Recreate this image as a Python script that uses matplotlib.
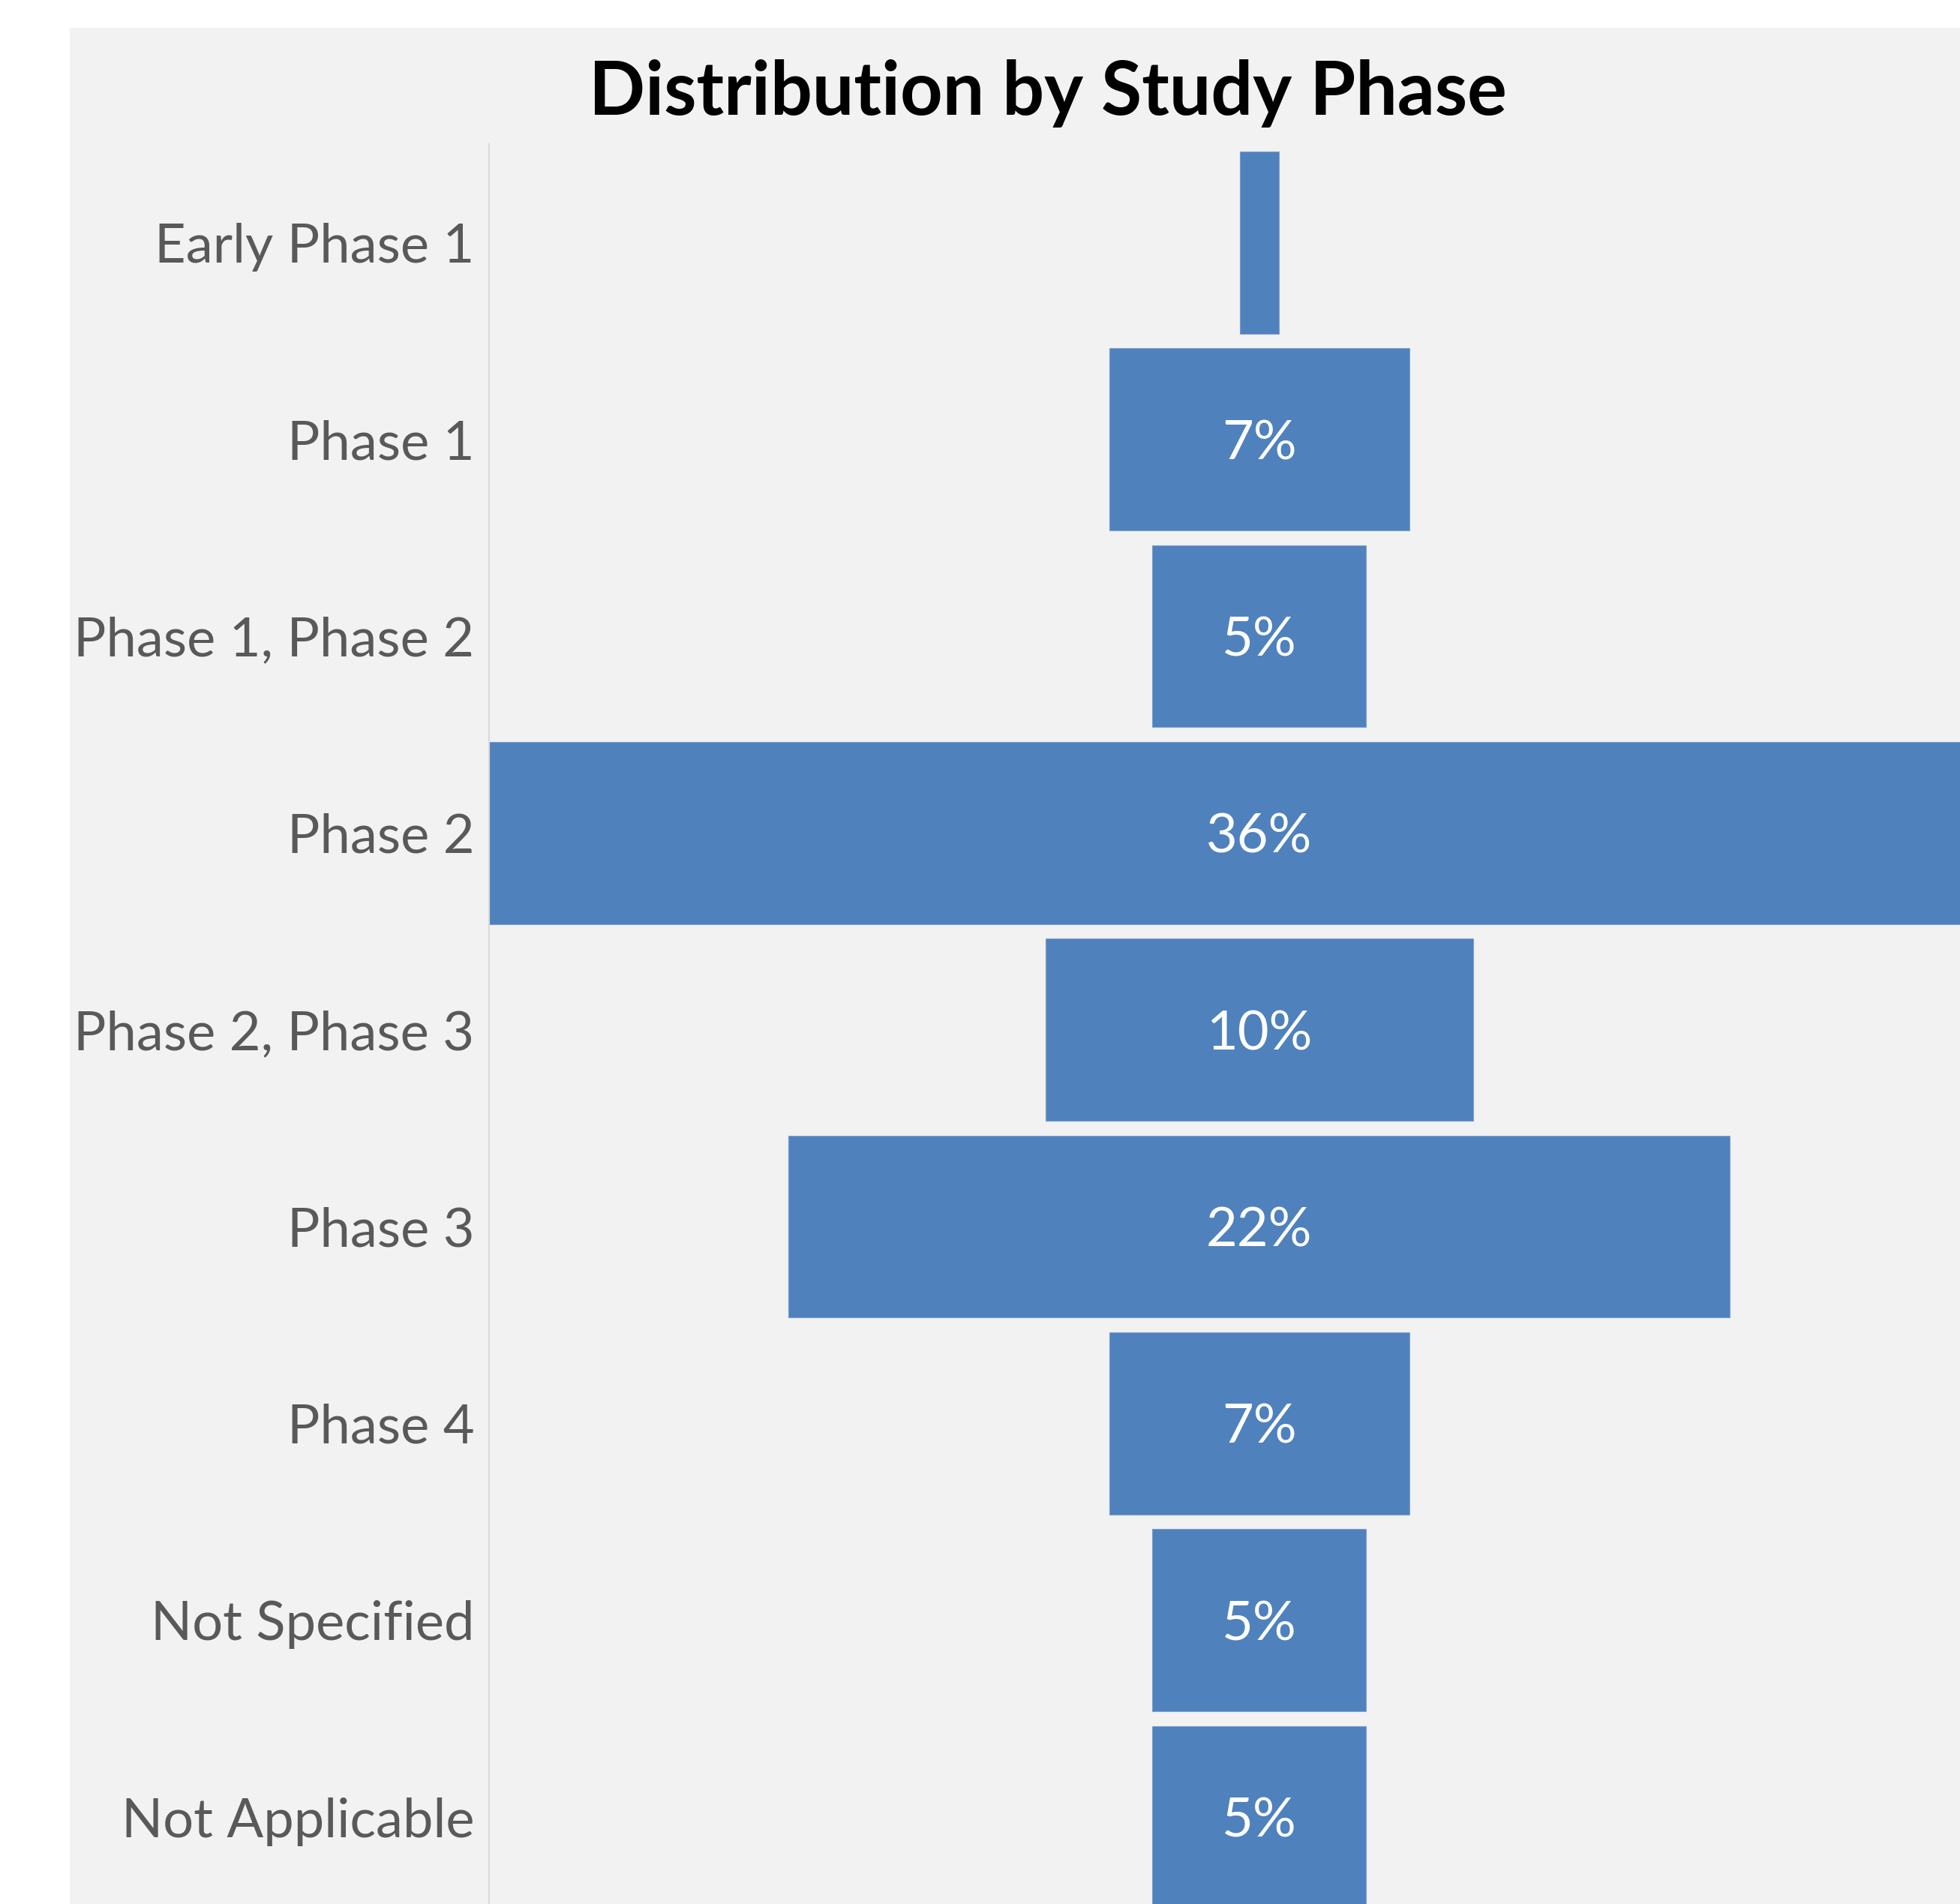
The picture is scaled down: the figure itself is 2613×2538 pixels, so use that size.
import numpy as np
import matplotlib.pyplot as plt
from matplotlib.patches import Rectangle

phases = ["Early Phase 1", "Phase 1", "Phase 1, Phase 2", "Phase 2",
          "Phase 2, Phase 3", "Phase 3", "Phase 4", "Not Specified",
          "Not Applicable"]
share = [0.9, 7, 5, 36, 10, 22, 7, 5, 5]
value_labels = ["", "7%", "5%", "36%", "10%", "22%", "7%", "5%", "5%"]

BLUE = "#4f81bd"
BG = "#f2f2f2"


def main():
    plt.rcParams['font.family'] = ['Lato', 'DejaVu Sans']
    fig = plt.figure(figsize=(26.13, 25.38), dpi=100, facecolor="white")

    # grey chart area, cut off at the right and bottom like the original
    fig.patches.append(Rectangle((0.0356, 0), 1.0, 0.9854, transform=fig.transFigure,
                                 facecolor=BG, edgecolor="none", zorder=-5))

    ax = fig.add_axes([0.2495, -0.006, 0.786, 0.9303])
    ax.set_facecolor("none")
    ax.set_zorder(2)

    vals = np.array(share)
    y = np.arange(len(phases))
    ax.barh(y, vals, left=-vals / 2, height=0.926, color=BLUE,
            edgecolor="#7a9fd0", linewidth=0.8)

    for i, lab in enumerate(value_labels):
        if lab:
            ax.text(0, i, lab, ha="center", va="center_baseline", color="white",
                    fontsize=52)

    ax.set_xlim(-18, 18)
    ax.set_ylim(len(phases) - 0.5, -0.5)
    ax.set_yticks(y)
    ax.set_yticklabels(phases, fontsize=52, color="#595959")
    ax.tick_params(axis="y", length=0, pad=14)
    ax.set_xticks([])
    for s in ["top", "right", "bottom"]:
        ax.spines[s].set_visible(False)
    ax.spines["left"].set_color("#d9d9d9")
    ax.spines["left"].set_linewidth(1.5)

    fig.text(0.5346, 0.9397, "Distribution by Study Phase", ha="center",
             va="baseline", fontsize=71, fontweight="bold", color="black",
             zorder=3)

    fig.savefig("out.png", dpi=100)


if __name__ == "__main__":
    main()
